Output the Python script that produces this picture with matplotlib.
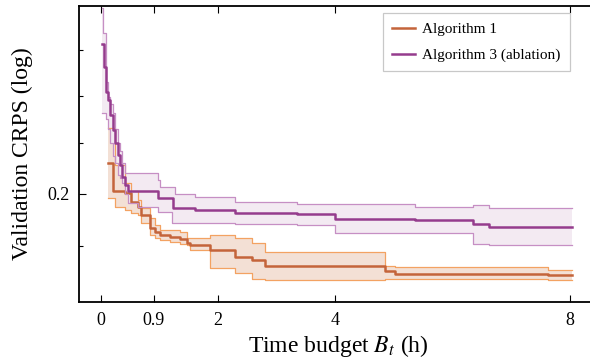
import matplotlib
matplotlib.use("Agg")
import matplotlib.pyplot as plt
from matplotlib.ticker import NullFormatter

plt.rcParams["font.family"] = ["Liberation Serif", "DejaVu Serif"]
plt.rcParams["mathtext.fontset"] = "stix"

# Algorithm 1: time (h), mean, lower, upper (validation CRPS)
t1 = [0.12, 0.21, 0.24, 0.41, 0.52, 0.64, 0.69, 0.84, 0.92, 1.01, 1.18, 1.35,
      1.46, 1.52, 1.86, 2.29, 2.57, 2.80, 4.85, 5.02, 7.63, 8.03]
m1 = [0.2060, 0.2006, 0.2006, 0.2001, 0.1983, 0.1974, 0.1958, 0.1934, 0.1926,
      0.1921, 0.1917, 0.1913, 0.1906, 0.1902, 0.1893, 0.1880, 0.1875, 0.1864,
      0.1855, 0.1849, 0.1847, 0.1847]
lo1 = [0.1991, 0.1991, 0.1974, 0.1968, 0.1962, 0.1958, 0.1943, 0.1921, 0.1915,
       0.1912, 0.1908, 0.1904, 0.1902, 0.1893, 0.1860, 0.1851, 0.1840, 0.1839,
       0.1840, 0.1841, 0.1839, 0.1839]
hi1 = [0.2131, 0.2131, 0.2056, 0.2020, 0.2006, 0.1987, 0.1972, 0.1954, 0.1939,
       0.1930, 0.1930, 0.1926, 0.1915, 0.1915, 0.1921, 0.1915, 0.1906, 0.1889,
       0.1864, 0.1862, 0.1856, 0.1856]

# Algorithm 3 (ablation)
t3 = [0.017, 0.03, 0.05, 0.085, 0.12, 0.15, 0.20, 0.24, 0.29, 0.32, 0.36, 0.41,
      0.46, 0.64, 0.97, 1.00, 1.21, 1.23, 1.26, 1.60, 2.29, 3.34, 4.00, 5.36,
      6.35, 6.62, 8.03]
m3 = [0.2314, 0.2314, 0.2261, 0.2208, 0.2190, 0.2158, 0.2127, 0.2100, 0.2076,
      0.2056, 0.2032, 0.2016, 0.2006, 0.2006, 0.1991, 0.1991, 0.1991, 0.1972,
      0.1972, 0.1968, 0.1962, 0.1960, 0.1951, 0.1949, 0.1941, 0.1937, 0.1937]
lo3 = [0.2162, 0.2162, 0.2162, 0.2150, 0.2130, 0.2100, 0.2075, 0.2060, 0.2036,
       0.2030, 0.2020, 0.2000, 0.1981, 0.1974, 0.1964, 0.1964, 0.1943, 0.1943,
       0.1943, 0.1943, 0.1941, 0.1939, 0.1925, 0.1925, 0.1904, 0.1902, 0.1902]
hi3 = [0.2395, 0.2337, 0.2337, 0.2230, 0.2196, 0.2183, 0.2162, 0.2130, 0.2100,
       0.2085, 0.2060, 0.2040, 0.2040, 0.2040, 0.2026, 0.2012, 0.2012, 0.2012,
       0.2000, 0.1993, 0.1983, 0.1979, 0.1979, 0.1974, 0.1977, 0.1973, 0.1973]

xticks = [0, 0.9, 2, 4, 8]

series = [
    ("Algorithm 1", t1, m1, lo1, hi1, "#c4643a", "#f3a262", "#f3e0d5"),
    ("Algorithm 3 (ablation)", t3, m3, lo3, hi3, "#953c8d", "#c68fc4", "#f3eaf2"),
]

fig = plt.figure(figsize=(5.9, 3.64), dpi=100)
# the original is cropped on the right, so the axes run past the figure edge
ax = fig.add_axes([79 / 590, 62 / 364, 519 / 590, 296 / 364])

for name, t, m, lo, hi, lc, ec, fc in series:
    ax.fill_between(t, lo, hi, step="post", color=fc, lw=0)
    ax.step(t, lo, where="post", color=ec, lw=0.9)
    ax.step(t, hi, where="post", color=ec, lw=0.9)
    ax.step(t, m, where="post", color=lc, lw=1.8, label=name)

ax.set_yscale("log")
ax.set_ylim(0.18, 0.24)
ax.set_xlim(-0.375, 8.48)
ax.set_yticks([0.2])
ax.set_yticklabels(["0.2"])
ax.set_yticks([0.19, 0.21, 0.22, 0.23], minor=True)
ax.yaxis.set_minor_formatter(NullFormatter())
ax.set_xticks(xticks)
ax.set_xticklabels(["0", "0.9", "2", "4", "8"])

ax.tick_params(which="both", direction="in", top=True, right=False, labelsize=13, width=0.8)
ax.tick_params(which="major", length=5, pad=7)
ax.tick_params(which="minor", length=3)
for s in ax.spines.values():
    s.set_linewidth(1.3)
ax.spines["right"].set_visible(False)

ax.set_xlabel("Time budget $B_t$ (h)", fontsize=17, labelpad=3)
ax.set_ylabel("Validation CRPS (log)", fontsize=17, labelpad=10)

leg = ax.legend(loc="upper right", fontsize=11, fancybox=False, framealpha=1,
                edgecolor="#c8c8c8", handlelength=1.5, handletextpad=0.5,
                borderpad=0.6, labelspacing=0.8, borderaxespad=0,
                bbox_to_anchor=(0.946, 0.976))
leg.get_frame().set_linewidth(0.9)

fig.savefig("out.png", dpi=100)
